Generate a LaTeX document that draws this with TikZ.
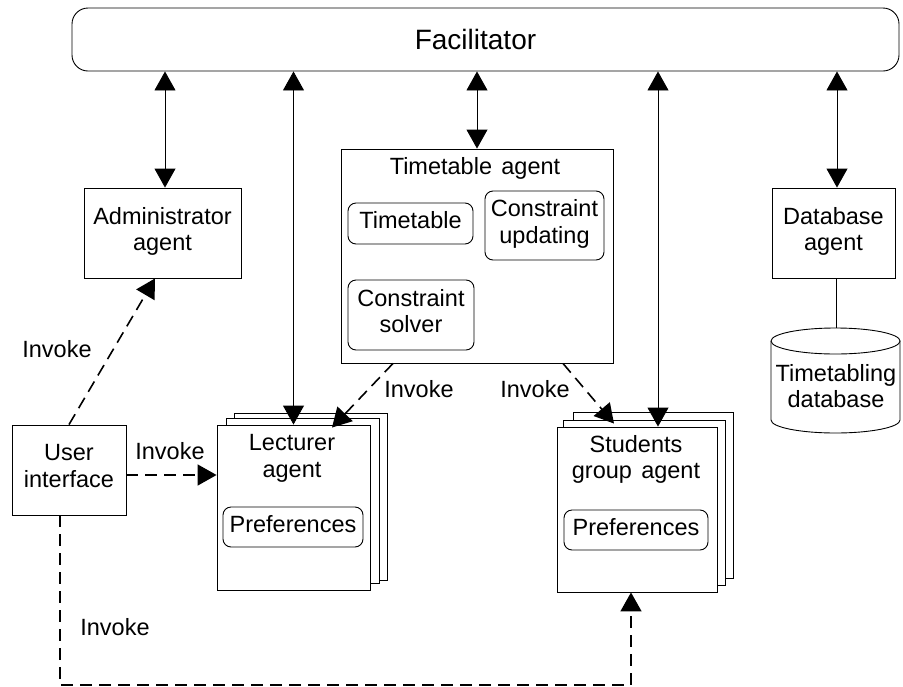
\documentclass[tikz,border=0pt]{standalone}
\usepackage{fontspec}
\setmainfont{Liberation Sans}
\usetikzlibrary{arrows.meta}
\begin{document}
\begin{tikzpicture}[x=1pt,y=-1pt,
  every node/.style={font=\fontsize{23.5}{26.5}\selectfont},
  box/.style={draw, line width=0.9pt, fill=white, inner sep=0pt, align=center,
    execute at begin node=\strut, execute at end node=\strut},
  rbox/.style={box, rounded corners=8pt},
  txt/.style={inner sep=0pt, align=center,
    execute at begin node=\strut, execute at end node=\strut},
  lbl/.style={inner sep=0pt, anchor=base},
  backbox/.style={draw, line width=0.9pt, fill=white},
  link/.style={line width=0.9pt,
    {Triangle[length=19pt,width=21pt]}-{Triangle[length=19pt,width=21pt]}},
  invoke/.style={line width=1.6pt, dash pattern=on 12pt off 7pt,
    -{Triangle[length=19pt,width=21pt]}}
]
\useasboundingbox (0,0) rectangle (903,686);

% Facilitator
\node[draw, line width=0.9pt, rounded corners=16pt, minimum width=827,
  minimum height=63, inner sep=0pt] (fac) at (485.5,39.5) {};
\node[lbl, font=\fontsize{28}{32}\selectfont] (facT) at (475.5,49) {Facilitator};

% Administrator
\node[box, minimum width=157, minimum height=90] (admin) at (162.5,233) {Administrator\\agent};

% Timetable agent
\node[box, minimum width=272, minimum height=214] (tt) at (477,256) {};
\node[lbl] (ttT) at (475,174) {Timetable\hspace{0.12em} agent};
\node[rbox, minimum width=125, minimum height=41] (ttb) at (410.5,223.5) {Timetable};
\node[rbox, minimum width=119, minimum height=69] (cup) at (544.5,225.5) {Constraint\\updating};
\node[rbox, minimum width=126, minimum height=70] (csv) at (411,315) {Constraint\\solver};

% Database agent
\node[box, minimum width=123, minimum height=90] (dba) at (833.5,233) {Database\\agent};
\draw[line width=0.9pt, fill=white] (771,341) -- (771,420)
  arc[start angle=180, end angle=360, x radius=64.5pt, y radius=13pt] -- (900,341);
\draw[line width=0.9pt, fill=white] (835.5,341) ellipse[x radius=64.5pt, y radius=13pt];
\coordinate (dbc) at (836,328);
\node[txt] (dbT) at (836,390) {Timetabling\\database};

% Lecturer agent stack
\draw[backbox] (234,413) rectangle (387,580);
\draw[backbox] (226,418) rectangle (379,583);
\node[box, minimum width=153, minimum height=165] (lec) at (293.5,507.5) {};
\node[txt] (lecT) at (292,460) {Lecturer\\agent};
\node[rbox, minimum width=140, minimum height=40] (lecP) at (293,527) {Preferences};

% Students group agent stack
\draw[backbox] (573,412) rectangle (733,578);
\draw[backbox] (563,420) rectangle (725,585);
\node[box, minimum width=160, minimum height=165] (stu) at (637,509.5) {};
\node[txt] (stuT) at (636,461) {Students\\group\hspace{0.12em} agent};
\node[rbox, minimum width=144, minimum height=40] (stuP) at (636,530) {Preferences};

% User interface
\node[box, minimum width=114, minimum height=90] (ui) at (69,470) {User\\interface};

% Facilitator links
\coordinate (aTop) at ([xshift=2.5]admin.north);
\coordinate (sTop) at ([xshift=21]stu.north);
\coordinate (dTop) at ([xshift=3.5]dba.north);
\draw[link] (aTop |- fac.south) -- (aTop);
\draw[link] (lec.north |- fac.south) -- (lec.north);
\draw[link] (tt.north |- fac.south) -- (tt.north);
\draw[link] (sTop |- fac.south) -- (sTop);
\draw[link] (dTop |- fac.south) -- (dTop);
\draw[line width=0.9pt] (dba.south -| dbc) -- (dbc);

% Invoke connectors
\draw[invoke] (ui.north) -- ([xshift=-7.5]admin.south);
\coordinate (uiE) at ([yshift=-5]ui.east);
\draw[invoke] (uiE) -- (uiE -| lec.west);
\coordinate (uiB) at ([xshift=-9]ui.south);
\coordinate (stB) at ([xshift=-6]stu.south);
\coordinate (bot) at (0,685);
\draw[invoke] (uiB) -- (uiB |- bot) -- (stB |- bot) -- (stB);
\coordinate (t1) at ([xshift=-84]tt.south);
\coordinate (lecHit) at ([xshift=38.5,yshift=-3]lec.north);
\draw[invoke] (t1) -- (lecHit);
\coordinate (t2) at ([xshift=86]tt.south);
\coordinate (stuHit) at ([xshift=-23,yshift=3]stu.north);
\draw[invoke] (t2) -- (stuHit);

% Labels
\node[lbl] (inv1) at (57,357) {Invoke};
\node[lbl] (inv2) at (170,459) {Invoke};
\node[lbl] (inv3) at (115,635) {Invoke};
\node[lbl] (inv4) at (419,397) {Invoke};
\node[lbl] (inv5) at (535,397) {Invoke};
\end{tikzpicture}
\end{document}
